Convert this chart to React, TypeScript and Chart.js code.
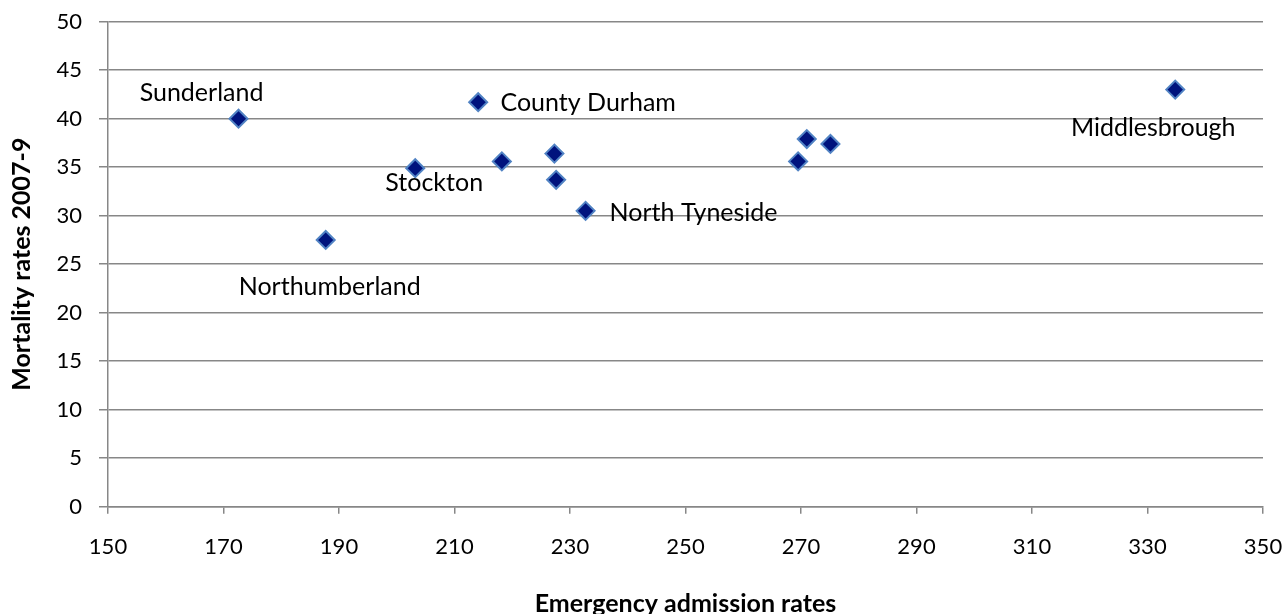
import React, { useEffect, useRef } from "react";
import { Chart, registerables } from "chart.js";

Chart.register(...registerables);

// Emergency admission rates (x) vs mortality rates 2007-9 (y)
const admissionRates = [172.6, 214.1, 203.2, 187.7, 232.7, 334.8, 218.2, 227.3, 227.6, 269.5, 271.0, 275.1];
const mortalityRates = [40.0, 41.7, 34.9, 27.5, 30.5, 43.0, 35.6, 36.4, 33.7, 35.6, 37.9, 37.4];
const pointNames = ["Sunderland", "County Durham", "Stockton", "Northumberland", "North Tyneside", "Middlesbrough", "", "", "", "", "", ""];

const xTicks = [150, 170, 190, 210, 230, 250, 270, 290, 310, 330, 350];
const yTicks = [0, 5, 10, 15, 20, 25, 30, 35, 40, 45, 50];

const xTitle = "Emergency admission rates";
const yTitle = "Mortality rates 2007-9";

// label placement (style): offset of label centre from its point, in px
const labelOffsets: Record<string, [number, number]> = {
  Sunderland: [-37, -26],
  "County Durham": [110, 1],
  Stockton: [19, 15],
  Northumberland: [4, 47],
  "North Tyneside": [108, 2],
  Middlesbrough: [-22, 38],
};

const FONT = "Lato, 'Open Sans', sans-serif";

const labelPlugin = {
  id: "pointNames",
  afterDatasetsDraw(chart: any) {
    const meta = chart.getDatasetMeta(0);
    const ctx = chart.ctx;
    ctx.save();
    ctx.font = `25px ${FONT}`;
    ctx.fillStyle = "#000000";
    ctx.textAlign = "center";
    ctx.textBaseline = "middle";
    meta.data.forEach((el: any, i: number) => {
      const name = pointNames[i];
      if (!name) return;
      const off = labelOffsets[name] || [0, 0];
      ctx.fillText(name, el.x + off[0], el.y + off[1]);
    });
    ctx.restore();
  },
};

export default function App() {
  const ref = useRef<HTMLCanvasElement>(null);
  useEffect(() => {
    if (!ref.current) return;
    const chart = new Chart(ref.current, {
      type: "scatter",
      data: {
        datasets: [
          {
            data: admissionRates.map((x, i) => ({ x, y: mortalityRates[i] })),
            pointStyle: "rectRot",
            pointRadius: 9,
            pointBackgroundColor: "#00137d",
            pointBorderColor: "#5183c4",
            pointBorderWidth: 2,
            showLine: false,
          },
        ],
      },
      options: {
        responsive: false,
        animation: false,
        devicePixelRatio: 1,
        layout: { padding: { top: 21.7, right: 24, left: 0, bottom: 0 } },
        plugins: { legend: { display: false }, tooltip: { enabled: false } },
        scales: {
          x: {
            type: "linear",
            min: 150,
            max: 350,
            afterBuildTicks: (scale: any) => {
              scale.ticks = xTicks.map((v) => ({ value: v }));
            },
            afterFit: (scale: any) => {
              scale.height = 614 - 506.7;
              scale.paddingLeft = 0;
              scale.paddingRight = 0;
            },
            ticks: { color: "#000", font: { family: FONT, size: 22 }, padding: 20, maxRotation: 0 },
            grid: { drawOnChartArea: false, drawTicks: true, tickLength: 7, color: "#878787", lineWidth: 1.5 },
            border: { display: true, color: "#878787", width: 1.5 },
            title: {
              display: true,
              text: xTitle,
              color: "#000",
              font: { family: FONT, size: 25, weight: "bold", lineHeight: 1.2 },
              padding: { top: 0, bottom: -5 },
            },
          },
          y: {
            type: "linear",
            min: 0,
            max: 50,
            afterBuildTicks: (scale: any) => {
              scale.ticks = yTicks.map((v) => ({ value: v }));
            },
            afterFit: (scale: any) => {
              scale.width = 108;
              scale.paddingTop = 0;
              scale.paddingBottom = 0;
            },
            ticks: { color: "#000", font: { family: FONT, size: 22 }, padding: 17 },
            grid: { drawOnChartArea: true, drawTicks: true, tickLength: 9, color: "#878787", lineWidth: 1.5 },
            border: { display: true, color: "#878787", width: 1.5 },
            title: {
              display: true,
              text: yTitle,
              color: "#000",
              font: { family: FONT, size: 25, weight: "bold", lineHeight: 1.2 },
              padding: { top: 7, bottom: 0 },
            },
          },
        },
      },
      plugins: [labelPlugin],
    } as any);
    return () => chart.destroy();
  }, []);
  return (
    <div style={{ position: "fixed", left: 0, top: 0, width: 1287, height: 614, background: "#fff" }}>
      <canvas ref={ref} width={1287} height={614} style={{ width: 1287, height: 614, display: "block" }} />
    </div>
  );
}
